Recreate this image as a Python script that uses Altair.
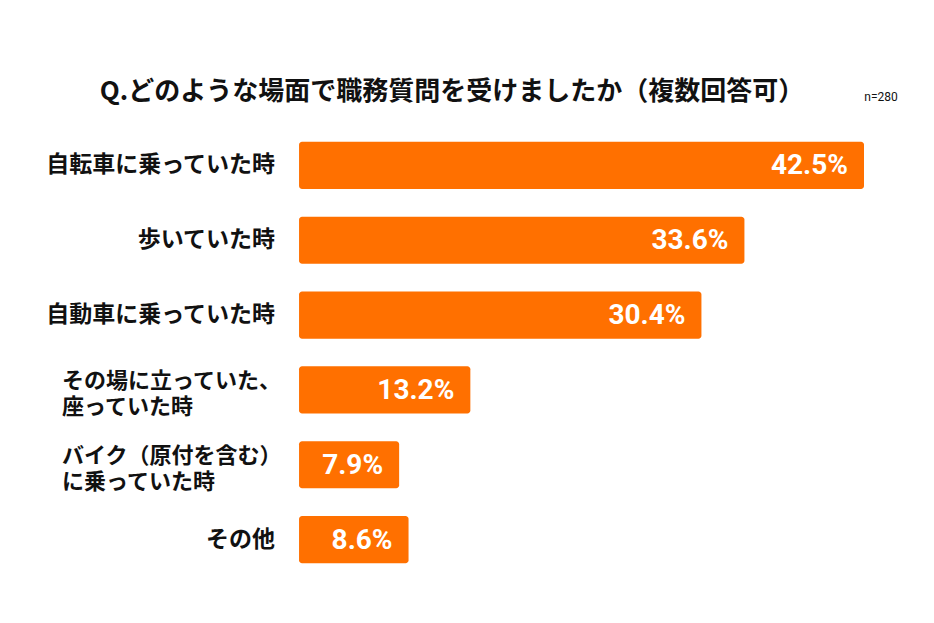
import altair as alt
import pandas as pd

categories = [
    "自転車に乗っていた時",
    "歩いていた時",
    "自動車に乗っていた時",
    "その場に立っていた、\n座っていた時",
    "バイク（原付を含む）\nに乗っていた時",
    "その他",
]
values = [42.5, 33.6, 30.4, 13.2, 7.9, 8.6]
value_labels = ["42.5%", "33.6%", "30.4%", "13.2%", "7.9%", "8.6%"]
title_text = "Q.どのような場面で職務質問を受けましたか（複数回答可）"
note_text = "n=280"

df = pd.DataFrame({
    "cat": categories,
    "value": values,
    "label": value_labels,
    "multi": ["\n" in c for c in categories],
})

FONT = "Noto Sans CJK JP"
ORANGE = "#FF7000"

y_enc = alt.Y("cat:N", sort=None, axis=None,
              scale=alt.Scale(paddingInner=0.37, paddingOuter=0.185))
x_scale = alt.Scale(domain=[0, 42.5], nice=False, zero=True)

base = alt.Chart(df)

bars = base.mark_bar(color=ORANGE, cornerRadius=3).encode(
    x=alt.X("value:Q", scale=x_scale, axis=None),
    x2=alt.datum(0.45),
    y=y_enc,
)

vals = base.mark_text(align="right", baseline="middle", dx=-16, dy=1,
                      color="white", fontWeight="bold", fontSize=28,
                      font="Roboto").encode(
    x=alt.X("value:Q", scale=x_scale),
    y=y_enc,
    text="label:N",
)

single = base.transform_filter("!datum.multi").mark_text(
    align="right", baseline="middle", fontSize=23, fontWeight="bold",
    font=FONT, color="#111111").encode(
    x=alt.value(-18),
    y=y_enc,
    text="cat:N",
)

multi = base.transform_filter("datum.multi").mark_text(
    align="left", baseline="middle", fontSize=22, fontWeight="bold",
    font=FONT, color="#111111", lineBreak="\n", lineHeight=26, dy=-9).encode(
    x=alt.value(-231),
    y=y_enc,
    text="cat:N",
)

one = pd.DataFrame({"t": [title_text], "n": [note_text]})
title = alt.Chart(one).mark_text(align="center", baseline="middle",
                                 fontSize=26, fontWeight="bold", font=FONT,
                                 color="#111111").encode(
    x=alt.value(159), y=alt.value(-36), text="t:N")
note = alt.Chart(one).mark_text(align="center", baseline="middle",
                                fontSize=12, font="Roboto",
                                color="#111111").encode(
    x=alt.value(588), y=alt.value(-31), text="n:N")

chart = alt.layer(bars, vals, single, multi, title, note).properties(
    width=571, height=449,
    background="white",
    autosize=alt.AutoSizeParams(type="none"),
    padding={"left": 285, "top": 120, "right": 50, "bottom": 30},
).configure_view(strokeWidth=0)

chart.save("out.html", embed_options={"renderer": "svg", "actions": False})
